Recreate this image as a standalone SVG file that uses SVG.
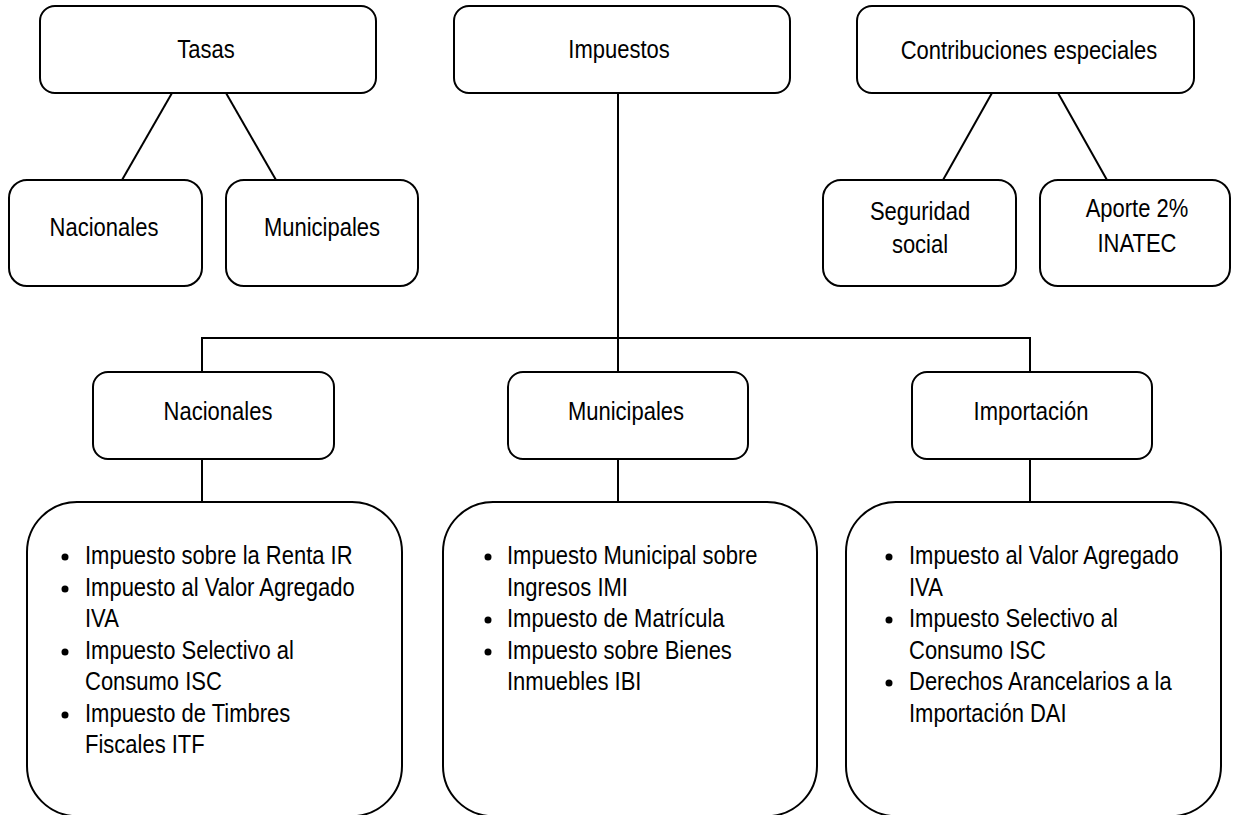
<svg xmlns="http://www.w3.org/2000/svg" width="1233" height="815" viewBox="0 0 1233 815">
<style>
  .box { fill: #fff; stroke: #000; stroke-width: 2; }
  .conn { stroke: #000; stroke-width: 2; fill: none; }
  text { font-family: "Liberation Sans", Arial, sans-serif; font-size: 22px; fill: #000; }
  .c { text-anchor: middle; }
  .dot { fill: #000; }
</style>
<rect width="1233" height="815" fill="#fff"/>
<g id="connectors">
  <line class="conn" x1="172" y1="93" x2="122" y2="180"/>
  <line class="conn" x1="226" y1="93" x2="276" y2="180"/>
  <line class="conn" x1="992" y1="93" x2="943" y2="180"/>
  <line class="conn" x1="1058" y1="93" x2="1107" y2="180"/>
  <polyline class="conn" points="618,93 618,372"/>
  <polyline class="conn" points="202,372 202,338 1030,338 1030,372"/>
  <line class="conn" x1="202" y1="459" x2="202" y2="502"/>
  <line class="conn" x1="618" y1="459" x2="618" y2="502"/>
  <line class="conn" x1="1030" y1="459" x2="1030" y2="502"/>
</g>
<g id="tasas">
  <rect class="box" x="40" y="6" width="336" height="87" rx="15"/>
  <text class="c" transform="translate(206 58) scale(1 1.2)">Tasas</text>
</g>
<g id="impuestos">
  <rect class="box" x="454" y="6" width="336" height="87" rx="15"/>
  <text class="c" transform="translate(619 58) scale(1 1.2)">Impuestos</text>
</g>
<g id="contribuciones">
  <rect class="box" x="857" y="6" width="337" height="87" rx="15"/>
  <text class="c" transform="translate(1029 59) scale(1 1.2)">Contribuciones especiales</text>
</g>
<g id="tasas-nacionales">
  <rect class="box" x="9" y="180" width="193" height="106" rx="18"/>
  <text class="c" transform="translate(104 236) scale(1 1.2)">Nacionales</text>
</g>
<g id="tasas-municipales">
  <rect class="box" x="226" y="180" width="192" height="106" rx="18"/>
  <text class="c" transform="translate(322 236) scale(1 1.2)">Municipales</text>
</g>
<g id="seguridad-social">
  <rect class="box" x="823" y="180" width="193" height="106" rx="18"/>
  <text class="c" transform="translate(920 220) scale(1 1.2)">Seguridad</text>
  <text class="c" transform="translate(920 253) scale(1 1.2)">social</text>
</g>
<g id="aporte-inatec">
  <rect class="box" x="1040" y="180" width="190" height="106" rx="18"/>
  <text class="c" transform="translate(1137 217) scale(1 1.2)">Aporte 2%</text>
  <text class="c" transform="translate(1137 252) scale(1 1.2)">INATEC</text>
</g>
<g id="imp-nacionales">
  <rect class="box" x="93" y="372" width="241" height="87" rx="15"/>
  <text class="c" transform="translate(218 420) scale(1 1.2)">Nacionales</text>
</g>
<g id="imp-municipales">
  <rect class="box" x="508" y="372" width="240" height="87" rx="15"/>
  <text class="c" transform="translate(626 420) scale(1 1.2)">Municipales</text>
</g>
<g id="imp-importacion">
  <rect class="box" x="912" y="372" width="240" height="87" rx="15"/>
  <text class="c" transform="translate(1031 420) scale(1 1.2)">Importación</text>
</g>
<g id="lista-nacionales">
  <rect class="box" x="27" y="502" width="375" height="314" rx="50"/>
  <circle class="dot" cx="65" cy="557" r="3.5"/>
  <circle class="dot" cx="65" cy="589" r="3.5"/>
  <circle class="dot" cx="65" cy="652" r="3.5"/>
  <circle class="dot" cx="65" cy="715" r="3.5"/>
  <text transform="translate(85 564) scale(1 1.2)">Impuesto sobre la Renta IR</text>
  <text transform="translate(85 595.5) scale(1 1.2)">Impuesto al Valor Agregado</text>
  <text transform="translate(85 627) scale(1 1.2)">IVA</text>
  <text transform="translate(85 658.5) scale(1 1.2)">Impuesto Selectivo al</text>
  <text transform="translate(85 690) scale(1 1.2)">Consumo ISC</text>
  <text transform="translate(85 721.5) scale(1 1.2)">Impuesto de Timbres</text>
  <text transform="translate(85 753) scale(1 1.2)">Fiscales ITF</text>
</g>
<g id="lista-municipales">
  <rect class="box" x="443" y="502" width="374" height="314" rx="50"/>
  <circle class="dot" cx="488" cy="557" r="3.5"/>
  <circle class="dot" cx="488" cy="620" r="3.5"/>
  <circle class="dot" cx="488" cy="652" r="3.5"/>
  <text transform="translate(507 564) scale(1 1.2)">Impuesto Municipal sobre</text>
  <text transform="translate(507 595.5) scale(1 1.2)">Ingresos IMI</text>
  <text transform="translate(507 627) scale(1 1.2)">Impuesto de Matrícula</text>
  <text transform="translate(507 658.5) scale(1 1.2)">Impuesto sobre Bienes</text>
  <text transform="translate(507 690) scale(1 1.2)">Inmuebles IBI</text>
</g>
<g id="lista-importacion">
  <rect class="box" x="846" y="502" width="375" height="314" rx="50"/>
  <circle class="dot" cx="889" cy="557" r="3.5"/>
  <circle class="dot" cx="889" cy="620" r="3.5"/>
  <circle class="dot" cx="889" cy="683" r="3.5"/>
  <text transform="translate(909 564) scale(1 1.2)">Impuesto al Valor Agregado</text>
  <text transform="translate(909 595.5) scale(1 1.2)">IVA</text>
  <text transform="translate(909 627) scale(1 1.2)">Impuesto Selectivo al</text>
  <text transform="translate(909 658.5) scale(1 1.2)">Consumo ISC</text>
  <text transform="translate(909 690) scale(1 1.2)">Derechos Arancelarios a la</text>
  <text transform="translate(909 721.5) scale(1 1.2)">Importación DAI</text>
</g>
</svg>
